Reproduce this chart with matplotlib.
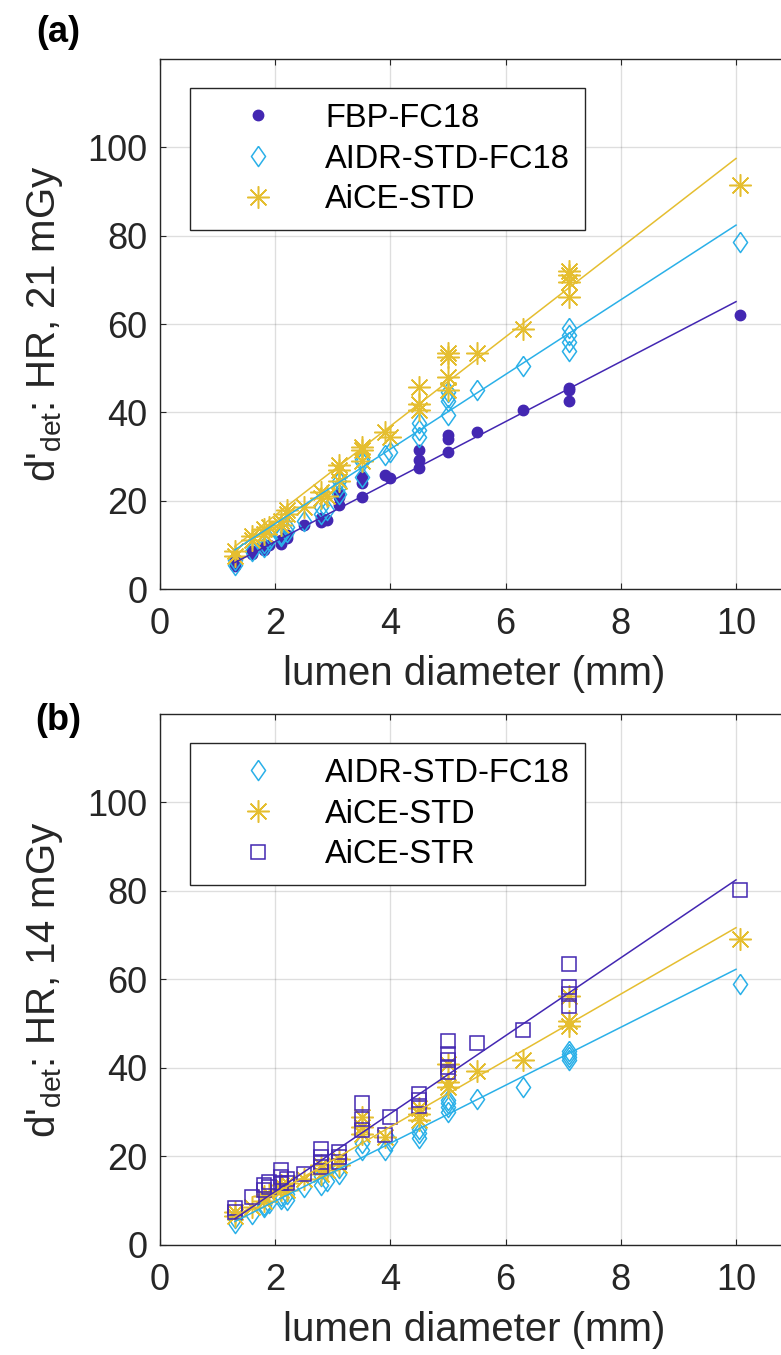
import matplotlib
matplotlib.use("Agg")
import matplotlib.pyplot as plt
import numpy as np

plt.rcParams['font.family'] = ['Liberation Sans', 'DejaVu Sans']
plt.rcParams['mathtext.default'] = 'regular'

# ---- panel (a): 21 mGy ----
fbp_x = [1.3, 1.3, 1.6, 1.6, 1.8, 1.8, 1.9, 2.1, 2.1, 2.2, 2.2, 2.5, 2.8, 2.8, 2.9,
         3.1, 3.1, 3.1, 3.5, 3.5, 3.5, 3.9, 4.0, 4.5, 4.5, 4.5, 5.0, 5.0, 5.0, 5.5,
         6.3, 7.1, 7.1, 7.1, 10.07]
fbp_y = [5.2, 6.5, 8.0, 8.6, 8.8, 9.6, 10.0, 10.3, 11.0, 11.6, 12.2, 14.5, 15.2, 16.0, 15.6,
         19.0, 20.9, 21.7, 20.9, 23.9, 25.4, 25.8, 25.1, 27.3, 29.2, 31.5, 31.1, 34.0, 34.9, 35.6,
         40.5, 42.5, 45.0, 45.5, 62.1]

aidr_a_x = [1.3, 1.3, 1.6, 1.8, 1.8, 1.9, 2.1, 2.1, 2.2, 2.2, 2.5, 2.8, 2.8, 2.9,
            3.1, 3.1, 3.1, 3.5, 3.5, 3.5, 3.9, 4.0, 4.5, 4.5, 4.5, 5.0, 5.0, 5.0, 5.0,
            5.5, 6.3, 7.1, 7.1, 7.1, 7.1, 10.07]
aidr_a_y = [5.5, 6.5, 8.5, 9.5, 10.5, 11.0, 12.0, 12.5, 13.0, 14.0, 15.5, 17.0, 18.5, 18.0,
            21.5, 23.0, 24.5, 25.4, 28.8, 29.5, 30.3, 31.0, 34.5, 36.0, 37.5, 39.5, 42.5, 43.5, 44.5,
            45.0, 50.5, 54.0, 56.0, 57.5, 59.0, 78.5]

aice_a_x = [1.3, 1.3, 1.6, 1.6, 1.8, 1.8, 1.9, 2.1, 2.1, 2.2, 2.2, 2.5, 2.8, 2.8, 2.9,
            3.1, 3.1, 3.1, 3.5, 3.5, 3.5, 3.9, 4.0, 4.5, 4.5, 4.5, 5.0, 5.0, 5.0, 5.0,
            5.5, 6.3, 7.1, 7.1, 7.1, 7.1, 10.07]
aice_a_y = [7.5, 8.5, 11.0, 12.0, 12.5, 13.5, 14.0, 14.5, 15.5, 17.0, 18.0, 18.5, 20.5, 22.0, 21.0,
            24.5, 27.0, 28.0, 29.0, 31.5, 32.2, 35.6, 34.5, 40.5, 42.0, 45.8, 45.1, 48.1, 52.6, 53.5,
            53.4, 58.8, 66.2, 69.6, 71.0, 71.9, 91.5]

# ---- panel (b): 14 mGy ----
aidr_b_x = [1.3, 1.3, 1.6, 1.8, 1.8, 1.9, 2.1, 2.1, 2.2, 2.2, 2.5, 2.8, 2.8, 2.9,
            3.1, 3.1, 3.5, 3.5, 3.9, 4.0, 4.5, 4.5, 4.5, 5.0, 5.0, 5.0, 5.0,
            5.5, 6.3, 7.1, 7.1, 7.1, 7.1, 10.07]
aidr_b_y = [5.0, 6.0, 7.0, 8.5, 9.0, 9.5, 10.5, 11.0, 10.1, 11.5, 13.0, 13.5, 15.5, 14.5,
            16.1, 17.5, 21.4, 23.0, 21.5, 23.5, 24.2, 25.2, 26.3, 30.0, 31.1, 32.0, 32.7,
            33.0, 35.8, 41.7, 42.4, 43.2, 43.9, 58.9]

aice_b_x = [1.3, 1.3, 1.6, 1.8, 1.8, 1.9, 2.1, 2.1, 2.2, 2.2, 2.5, 2.8, 2.8, 2.9,
            3.1, 3.1, 3.5, 3.5, 3.5, 3.9, 4.5, 4.5, 4.5, 5.0, 5.0, 5.0,
            5.5, 6.3, 7.1, 7.1, 7.1, 10.07]
aice_b_y = [6.5, 7.5, 8.5, 10.0, 11.0, 11.5, 12.5, 13.5, 12.5, 14.0, 15.0, 16.0, 18.0, 17.0,
            18.0, 19.5, 25.0, 26.6, 29.0, 24.5, 28.2, 29.7, 31.0, 35.7, 36.8, 40.9,
            39.4, 41.8, 49.5, 50.7, 56.3, 69.1]

str_b_x = [1.3, 1.3, 1.6, 1.8, 1.8, 1.9, 1.9, 2.1, 2.1, 2.1, 2.2, 2.2, 2.5, 2.8, 2.8, 2.8, 2.8,
           3.1, 3.1, 3.1, 3.5, 3.5, 3.5, 3.9, 4.0, 4.5, 4.5, 4.5, 5.0, 5.0, 5.0, 5.0, 5.0,
           5.5, 6.3, 7.1, 7.1, 7.1, 7.1, 10.07]
str_b_y = [7.5, 8.3, 10.9, 12.4, 13.5, 13.1, 14.3, 13.9, 15.4, 16.9, 13.9, 15.0, 16.1, 17.6, 18.8, 19.9, 21.8,
           18.8, 19.9, 21.0, 25.9, 28.5, 32.1, 24.8, 28.9, 31.5, 32.7, 34.2, 39.0, 40.2, 41.7, 43.2, 46.2,
           45.6, 48.6, 54.1, 56.7, 58.2, 63.6, 80.3]

# linear fits (slope, intercept), drawn over the diameter range
fit_range = [1.3, 10.0]
fit_fbp_a = (6.79, -2.83)
fit_aidr_a = (8.45, -2.1)
fit_aice_a = (10.1, -3.5)
fit_aidr_b = (6.55, -3.2)
fit_aice_b = (7.5, -3.3)
fit_str_b = (8.8, -5.5)

PURPLE = '#4327B2'
CYAN = '#2AB0E8'
YELLOW = '#E5BE30'
DIAMOND = [(0, 1), (0.7, 0), (0, -1), (-0.7, 0), (0, 1)]
STAR = (8, 2, 0)

styles = {
    'FBP-FC18': dict(marker='o', ms=7.5, color=PURPLE, mfc=PURPLE, mec=PURPLE, ls='none'),
    'AIDR-STD-FC18': dict(marker=DIAMOND, ms=14.5, color=CYAN, mfc='none', mec=CYAN, mew=1.1, ls='none'),
    'AiCE-STD': dict(marker=STAR, ms=16, color=YELLOW, mec=YELLOW, mew=1.1, ls='none'),
    'AiCE-STR': dict(marker='s', ms=9.5, color=PURPLE, mfc='none', mec=PURPLE, mew=1.1, ls='none'),
}

# axes run just past the right edge of the figure (cropped like the source image)
XMAX = 10.9
fig = plt.figure(figsize=(7.81, 13.55), dpi=100)
ax_a = fig.add_axes([0.2049, 0.5653, 57.6 * XMAX / 781, 0.3911])
ax_b = fig.add_axes([0.2049, 0.0812, 57.6 * XMAX / 781, 0.3919])


def draw_fit(ax, fit, color):
    xs = np.array(fit_range)
    ax.plot(xs, fit[0] * xs + fit[1], color=color, lw=1.1, zorder=4)


def style_axes(ax, ylabel):
    ax.set_xlim(0, XMAX)
    ax.set_ylim(0, 120)
    ax.set_xticks([0, 2, 4, 6, 8, 10])
    ax.set_yticks([0, 20, 40, 60, 80, 100])
    ax.grid(True, color='#262626', alpha=0.15, lw=1.0)
    ax.set_axisbelow(True)
    for s in ax.spines.values():
        s.set_color('#262626')
        s.set_linewidth(1.0)
    ax.spines['right'].set_visible(False)
    ax.tick_params(direction='in', length=4.5, width=0.8, color='#262626',
                   labelsize=26, top=True, labelcolor='#262626')
    ax.tick_params(axis='x', pad=13)
    ax.tick_params(axis='y', pad=9)
    ax.set_xlabel('lumen diameter (mm)', fontsize=29, color='#262626', labelpad=9)
    ax.set_ylabel(ylabel, fontsize=29, color='#262626', labelpad=16)


def add_legend(ax, names):
    handles = [plt.Line2D([], [], **styles[n]) for n in names]
    leg = ax.legend(handles, names, loc='upper left', bbox_to_anchor=(0.047 * 11 / XMAX, 0.945),
                    borderaxespad=0, fontsize=23.5, fancybox=False, framealpha=1,
                    edgecolor='#262626', borderpad=0.45, handlelength=3.3,
                    handletextpad=0.4, labelspacing=0.3)
    leg.get_frame().set_linewidth(1.0)
    leg.set_zorder(10)


# panel (a)
ax_a.plot(fbp_x, fbp_y, **styles['FBP-FC18'], zorder=3)
ax_a.plot(aidr_a_x, aidr_a_y, **styles['AIDR-STD-FC18'], zorder=3)
ax_a.plot(aice_a_x, aice_a_y, **styles['AiCE-STD'], zorder=3)
draw_fit(ax_a, fit_fbp_a, PURPLE)
draw_fit(ax_a, fit_aidr_a, CYAN)
draw_fit(ax_a, fit_aice_a, YELLOW)
style_axes(ax_a, r"d'$_{det}$: HR, 21 mGy")
add_legend(ax_a, ['FBP-FC18', 'AIDR-STD-FC18', 'AiCE-STD'])

# panel (b)
ax_b.plot(aidr_b_x, aidr_b_y, **styles['AIDR-STD-FC18'], zorder=3)
ax_b.plot(aice_b_x, aice_b_y, **styles['AiCE-STD'], zorder=3)
ax_b.plot(str_b_x, str_b_y, **styles['AiCE-STR'], zorder=3)
draw_fit(ax_b, fit_aidr_b, CYAN)
draw_fit(ax_b, fit_aice_b, YELLOW)
draw_fit(ax_b, fit_str_b, PURPLE)
style_axes(ax_b, r"d'$_{det}$: HR, 14 mGy")
add_legend(ax_b, ['AIDR-STD-FC18', 'AiCE-STD', 'AiCE-STR'])

fig.text(58 / 781, 1 - 32 / 1355, '(a)', fontsize=26, fontweight='bold', ha='center', va='center')
fig.text(58 / 781, 1 - 720 / 1355, '(b)', fontsize=26, fontweight='bold', ha='center', va='center')

fig.savefig('out.png', dpi=100)
